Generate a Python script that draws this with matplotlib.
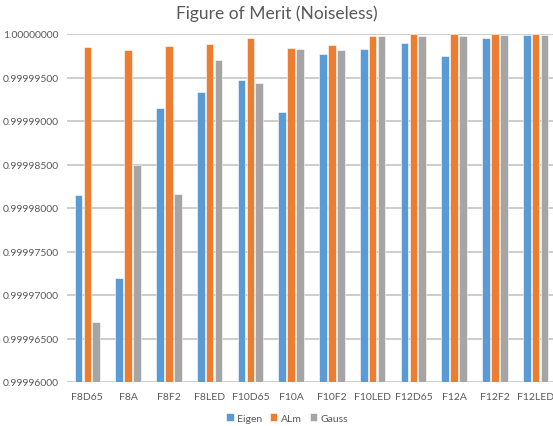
import matplotlib.pyplot as plt
import numpy as np

# Figure of merit per filter / illuminant combination
categories = ["F8D65", "F8A", "F8F2", "F8LED", "F10D65", "F10A",
              "F10F2", "F10LED", "F12D65", "F12A", "F12F2", "F12LED"]
eigen = [0.9999815, 0.9999719, 0.9999915, 0.9999933, 0.9999947, 0.9999910,
         0.9999977, 0.9999983, 0.9999990, 0.9999975, 0.9999995, 0.9999999]
alm = [0.9999985, 0.9999982, 0.9999986, 0.9999989, 0.9999995, 0.9999984,
       0.9999987, 0.9999998, 1.0000000, 1.0000000, 1.0000000, 1.0000000]
gauss = [0.9999669, 0.9999849, 0.9999816, 0.9999970, 0.9999944, 0.9999983,
         0.9999982, 0.9999998, 0.9999998, 0.9999998, 0.9999999, 0.9999999]

series = {"Eigen": eigen, "ALm": alm, "Gauss": gauss}
colors = ["#5B9BD5", "#ED7D31", "#A5A5A5"]
yticks = np.arange(0.99996, 1.0000001, 0.000005)

plt.rcParams['font.family'] = ['Lato', 'DejaVu Sans']
text_color = "#595959"

fig = plt.figure(figsize=(5.53, 4.27), dpi=100)
ax = fig.add_axes([67 / 553, 44 / 427, 489 / 553, 348 / 427])

x = np.arange(len(categories))
width = 0.19
for i, (name, vals) in enumerate(series.items()):
    ax.bar(x + (i - 1) * 0.215, vals, width, color=colors[i], label=name,
           edgecolor="white", linewidth=0.4, zorder=3)

ax.set_ylim(0.99996, 1.0)
ax.set_xlim(-0.5, len(categories) - 0.5)
ax.set_yticks(yticks)
ax.set_yticklabels(["%.8f" % v for v in yticks])
ax.set_xticks(x, categories)
ax.tick_params(axis="both", length=0, labelsize=7.5, colors=text_color)
ax.tick_params(axis="x", pad=7)
ax.tick_params(axis="y", pad=6)
ax.grid(axis="y", color="#C9C9C9", linewidth=1.3, zorder=0)
for s in ax.spines.values():
    s.set_visible(False)

fig.suptitle("Figure of Merit (Noiseless)", x=277 / 553, y=1 - 5 / 427,
             va="top", fontsize=12.5, color=text_color)
fig.legend(loc="center", bbox_to_anchor=(287 / 553, 1 - 419 / 427), ncol=3,
           frameon=False, fontsize=7.5, labelcolor=text_color,
           handlelength=0.7, handleheight=0.7, handletextpad=0.3,
           columnspacing=0.8)

fig.savefig("out.png", dpi=100)
